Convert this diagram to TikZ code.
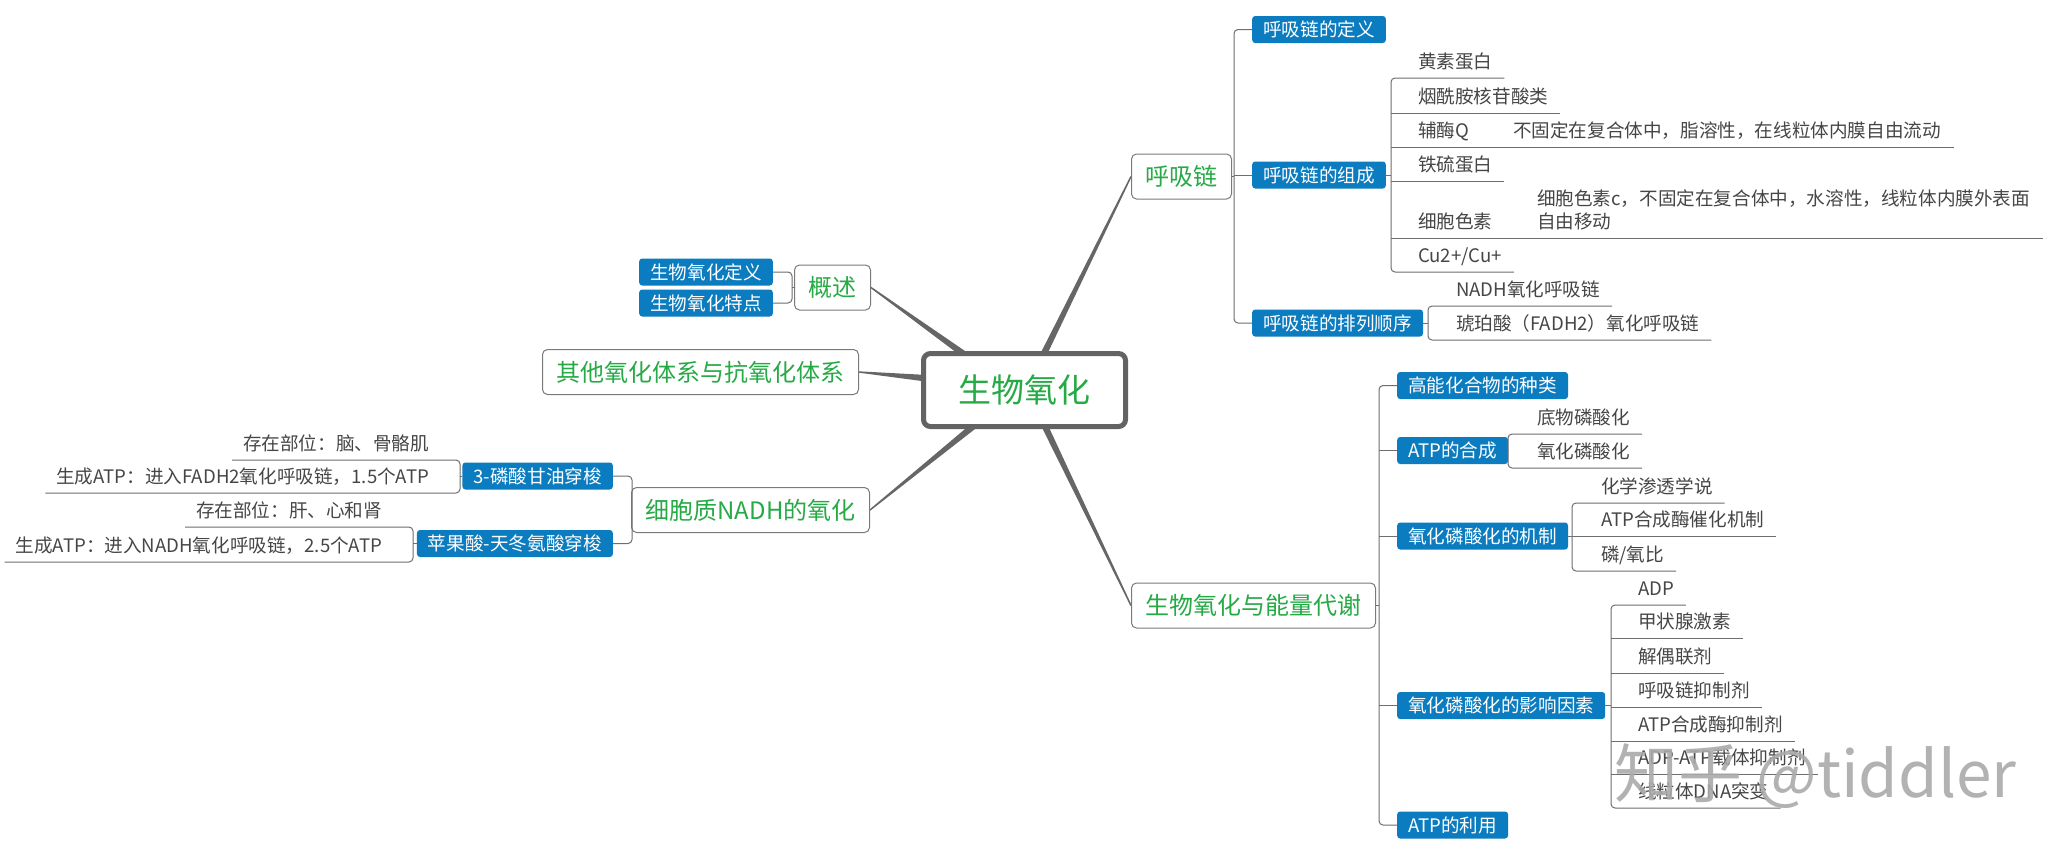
\documentclass[tikz,border=0pt]{standalone}
\usepackage{fontspec}
\setmainfont{Noto Sans CJK SC}
\usetikzlibrary{calc}
\definecolor{topgreen}{HTML}{26AA46}
\definecolor{subblue}{HTML}{0B7CBF}
\definecolor{txtcol}{HTML}{464646}
\definecolor{linecol}{HTML}{6E6E6E}
\definecolor{conncol}{HTML}{666666}
\definecolor{boxcol}{HTML}{7A7A7A}
\definecolor{rootcol}{HTML}{636363}
\definecolor{wmcol}{HTML}{AAAAAA}
\pgfdeclarelayer{bg}
\pgfsetlayers{bg,main}
\newcommand{\mytaper}[4]{%
  \fill[conncol] ($(#1)!#3!90:(#2)$) -- ($(#2)!#4!-90:(#1)$) -- ($(#2)!#4!90:(#1)$) -- ($(#1)!#3!-90:(#2)$) -- cycle;}
\tikzset{
  fnineteen/.style={font=\fontsize{18.6}{23}\selectfont, text height=16.4pt, text depth=2.2pt},
  ftwentyfour/.style={font=\fontsize{24}{29}\selectfont, text height=21.1pt, text depth=2.9pt},
  rootbox/.style={draw=rootcol, line width=5pt, rounded corners=7pt, fill=white, text=topgreen,
    font=\fontsize{33}{40}\selectfont, text height=29pt, text depth=4pt,
    minimum width=202pt, minimum height=73pt, inner sep=0pt, outer sep=0pt},
  topic/.style={ftwentyfour, draw=boxcol, line width=1pt, rounded corners=5pt, fill=white, text=topgreen,
    minimum height=45pt, inner xsep=14pt, inner ysep=0pt},
  subbox/.style={fnineteen, fill=subblue, text=white, rounded corners=3pt, minimum height=27pt,
    inner xsep=11pt, inner ysep=0pt},
  itemr/.style={fnineteen, text=txtcol, inner xsep=0pt, inner ysep=7.1pt, outer sep=0pt, anchor=south west},
  iteml/.style={fnineteen, text=txtcol, inner xsep=0pt, inner ysep=7.1pt, outer sep=0pt, anchor=south east},
  lnk/.style={draw=linecol, line width=1pt},
  spn/.style={draw=linecol, line width=1pt, rounded corners=4pt},
}
\begin{document}
\begin{tikzpicture}[x=1pt,y=-1pt]
\useasboundingbox (0,0) rectangle (2059,855);
\begin{pgfonlayer}{bg}
\fill[white] (0,0) rectangle (2059,855);
\end{pgfonlayer}

% central and main topics
\node[rootbox] (root) at (1024.5,390) {生物氧化};
\node[topic, anchor=west] (hxl) at (1131,176.5) {呼吸链};
\node[topic, anchor=west] (nl) at (1131,605.5) {生物氧化与能量代谢};
\node[topic, anchor=east] (gs) at (871,287.5) {概述};
\node[topic, anchor=east] (qt) at (859,372) {其他氧化体系与抗氧化体系};
\node[topic, anchor=east] (xb) at (870,510) {细胞质NADH的氧化};

% sub topics
\node[subbox, anchor=west] (def) at (1252,29.5) {呼吸链的定义};
\node[subbox, anchor=west] (comp) at (1252,175) {呼吸链的组成};
\node[subbox, anchor=west] (seq) at (1252,323) {呼吸链的排列顺序};
\node[subbox, anchor=west] (gn) at (1397,385.5) {高能化合物的种类};
\node[subbox, anchor=west] (hc) at (1397,450.5) {ATP的合成};
\node[subbox, anchor=west] (jz) at (1397,536) {氧化磷酸化的机制};
\node[subbox, anchor=west] (yx) at (1397,705.5) {氧化磷酸化的影响因素};
\node[subbox, anchor=west] (ly) at (1397,825) {ATP的利用};
\node[subbox, anchor=east] (dy) at (773,272) {生物氧化定义};
\node[subbox, anchor=east] (td) at (773,303) {生物氧化特点};
\node[subbox, anchor=east] (gy) at (613,476) {3-磷酸甘油穿梭};
\node[subbox, anchor=east] (pg) at (613,543.5) {苹果酸-天冬氨酸穿梭};

% items of 呼吸链的组成
\node[itemr] (i1) at (1418,78) {黄素蛋白};
\node[itemr] (i2) at (1418,113) {烟酰胺核苷酸类};
\node[itemr] (i3) at (1418,147) {辅酶Q};
\node[itemr] (i3c) at (1513,147) {不固定在复合体中，脂溶性，在线粒体内膜自由流动};
\node[itemr] (i4) at (1418,181) {铁硫蛋白};
\node[itemr] (i5) at (1418,238) {细胞色素};
\node[itemr] (i5a) at (1537,215) {细胞色素c，不固定在复合体中，水溶性，线粒体内膜外表面};
\node[itemr] (i5b) at (1537,238) {自由移动};
\node[itemr] (i6) at (1418,272) {Cu2+/Cu+};

% items of 呼吸链的排列顺序
\node[itemr] (q1) at (1456,306) {NADH氧化呼吸链};
\node[itemr] (q2) at (1456,340) {琥珀酸（FADH2）氧化呼吸链};

% items of ATP的合成
\node[itemr] (h1) at (1537,434) {底物磷酸化};
\node[itemr] (h2) at (1537,468) {氧化磷酸化};

% items of 机制
\node[itemr] (j1) at (1601,503) {化学渗透学说};
\node[itemr] (j2) at (1601,536) {ATP合成酶催化机制};
\node[itemr] (j3) at (1601,571) {磷/氧比};

% items of 影响因素
\node[itemr] (y1) at (1638,605) {ADP};
\node[itemr] (y2) at (1638,638) {甲状腺激素};
\node[itemr] (y3) at (1638,673) {解偶联剂};
\node[itemr] (y4) at (1638,707) {呼吸链抑制剂};
\node[itemr] (y5) at (1638,741) {ATP合成酶抑制剂};
\node[itemr] (y6) at (1638,774) {ADP-ATP载体抑制剂};
\node[itemr] (y7) at (1638,808) {线粒体DNA突变};

% left items
\node[iteml] (g1) at (429,460) {存在部位：脑、骨骼肌};
\node[iteml] (g2) at (429,493) {生成ATP：进入FADH2氧化呼吸链，1.5个ATP};
\node[iteml] (p1) at (382,527) {存在部位：肝、心和肾};
\node[iteml] (p2) at (382,562) {生成ATP：进入NADH氧化呼吸链，2.5个ATP};

% tapered main connectors
\coordinate (r1) at ([xshift=19.5pt]root.north);
\coordinate (r2) at ([xshift=-61.5pt]root.north);
\coordinate (r3) at ([yshift=12pt]root.west);
\coordinate (r4) at ([xshift=-51.5pt]root.south);
\coordinate (r5) at ([xshift=20.5pt]root.south);
\begin{pgfonlayer}{bg}
\mytaper{r1}{hxl.west}{3.2pt}{0.7pt}
\mytaper{r2}{gs.east}{3.2pt}{0.7pt}
\mytaper{r3}{qt.east}{3.2pt}{0.7pt}
\mytaper{r4}{xb.east}{3.2pt}{0.7pt}
\mytaper{r5}{nl.west}{3.2pt}{0.7pt}
\end{pgfonlayer}

% 呼吸链 branch
\coordinate (sA) at (1234,176.5);
\draw[lnk] (hxl.east) -- (sA);
\draw[spn] (def.west) -| (sA) |- (seq.west);
\draw[lnk] (comp.west) -- (comp.west -| sA);

\coordinate (bA) at (1391,175);
\draw[lnk] (comp.east) -- (bA);
\draw[spn] ([xshift=12pt]i1.south east) -- (i1.south west -| bA) -- (i6.south west -| bA) -- ([xshift=12pt]i6.south east);
\draw[lnk] (i2.south west -| bA) -- ([xshift=12pt]i2.south east);
\draw[lnk] (i3.south west -| bA) -- ([xshift=13pt]i3c.south east);
\draw[lnk] (i4.south west -| bA) -- ([xshift=12pt]i4.south east);
\coordinate (i5e) at ([xshift=13pt]i5a.south east);
\draw[lnk] (i5.south west -| bA) -- (i5e |- i5b.south);

\coordinate (bB) at (1428,323);
\draw[lnk] (seq.east) -- (bB);
\draw[spn] ([xshift=12pt]q1.south east) -- (q1.south west -| bB) -- (q2.south west -| bB) -- ([xshift=12pt]q2.south east);

% 生物氧化与能量代谢 branch
\coordinate (sB) at (1379,605.5);
\draw[lnk] (nl.east) -- (sB);
\draw[spn] (gn.west) -| (sB) |- (ly.west);
\draw[lnk] (hc.west) -- (hc.west -| sB);
\draw[lnk] (jz.west) -- (jz.west -| sB);
\draw[lnk] (yx.west) -- (yx.west -| sB);

\coordinate (bC) at (1508,451);
\draw[lnk] (hc.east) -- (bC);
\draw[spn] ([xshift=12pt]h1.south east) -- (h1.south west -| bC) -- (h2.south west -| bC) -- ([xshift=12pt]h2.south east);

\coordinate (bD) at (1572,536);
\draw[lnk] (jz.east) -- (bD);
\draw[spn] ([xshift=12pt]j1.south east) -- (j1.south west -| bD) -- (j3.south west -| bD) -- ([xshift=12pt]j3.south east);
\draw[lnk] (j2.south west -| bD) -- ([xshift=12pt]j2.south east);

\coordinate (bE) at (1611,705.5);
\draw[lnk] (yx.east) -- (bE);
\draw[spn] ([xshift=12pt]y1.south east) -- (y1.south west -| bE) -- (y7.south west -| bE) -- ([xshift=12pt]y7.south east);
\draw[lnk] (y2.south west -| bE) -- ([xshift=12pt]y2.south east);
\draw[lnk] (y3.south west -| bE) -- ([xshift=12pt]y3.south east);
\draw[lnk] (y4.south west -| bE) -- ([xshift=12pt]y4.south east);
\draw[lnk] (y5.south west -| bE) -- ([xshift=12pt]y5.south east);
\draw[lnk] (y6.south west -| bE) -- ([xshift=12pt]y6.south east);

% 概述 branch
\coordinate (sC) at (792,287.5);
\draw[lnk] (gs.west) -- (sC);
\draw[spn] (dy.east) -| (sC) |- (td.east);

% 细胞质NADH的氧化 branch
\coordinate (sD) at (632,510);
\draw[lnk] (xb.west) -- (sD);
\draw[spn] (gy.east) -| (sD) |- (pg.east);

\coordinate (bF) at (460,476);
\draw[lnk] (gy.west) -- (bF);
\draw[spn] ([xshift=-11pt]g1.south west) -- (g1.south east -| bF) -- (g2.south east -| bF) -- ([xshift=-11pt]g2.south west);

\coordinate (bG) at (413,543.5);
\draw[lnk] (pg.west) -- (bG);
\draw[spn] ([xshift=-11pt]p1.south west) -- (p1.south east -| bG) -- (p2.south east -| bG) -- ([xshift=-11pt]p2.south west);

% watermark
\node[anchor=west, text=wmcol, opacity=0.9, font=\fontsize{64}{64}\selectfont, inner sep=0pt] (wm) at (1614,776) {知乎 @tiddler};
\end{tikzpicture}
\end{document}
